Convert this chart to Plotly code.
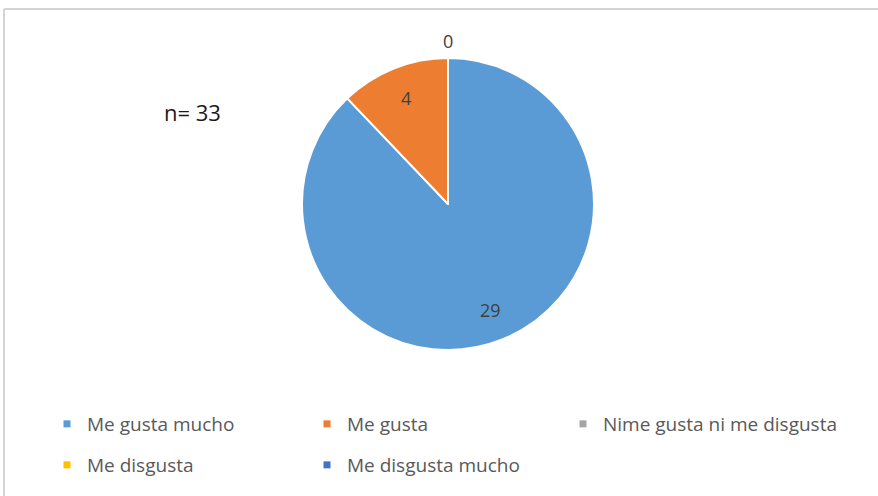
import math
import plotly.graph_objects as go

# Survey answers (n = 33)
categories = ["Me gusta mucho", "Me gusta", "Nime gusta ni me disgusta",
              "Me disgusta", "Me disgusta mucho"]
counts = [29, 4, 0, 0, 0]
colors = ["#5B9BD5", "#ED7D31", "#A5A5A5", "#FFC000", "#4472C4"]
sample_label = "n= " + str(sum(counts))

W, H = 878, 496
cx, cy, R = 448, 204, 146  # pie centre / radius in pixels (from top-left)
FONT = "Open Sans"

# Legend grid: three columns, two rows (pixel positions)
col_x = [47, 307, 563]
row_y = [424, 465]

fig = go.Figure()

fig.add_trace(go.Pie(
    labels=categories,
    values=counts,
    marker=dict(colors=colors, line=dict(color="white", width=2)),
    sort=False,
    direction="clockwise",
    rotation=0,
    textinfo="none",
    showlegend=False,
    hoverinfo="label+value",
    domain=dict(x=[(cx - R) / W, (cx + R) / W],
                y=[(H - cy - R) / H, (H - cy + R) / H]),
))

legend_layouts = {}
for i, (name, col) in enumerate(zip(categories, colors)):
    key = "legend" if i == 0 else f"legend{i + 1}"
    fig.add_trace(go.Scatter(
        x=[None], y=[None], mode="markers", name=name,
        marker=dict(symbol="square", size=7, color=col),
        legend=key,
    ))
    legend_layouts[key] = dict(
        x=col_x[i % 3] / W, y=1 - row_y[i // 3] / H,
        xanchor="left", yanchor="middle", orientation="h",
        font=dict(family=FONT, size=19, color="#595959"),
        bgcolor="rgba(0,0,0,0)", itemclick=False, itemdoubleclick=False,
    )


def polar_to_paper(angle_deg, radius):
    rad = math.radians(angle_deg)
    px = cx + radius * math.sin(rad)
    py = cy - radius * math.cos(rad)
    return px / W, 1 - py / H


label_font = dict(family=FONT, size=18, color="#404040")
annotations = []
total = sum(counts)
cum = 0
zero_angles = set()
for v in counts:
    start = 360 * cum / total
    if v == 0:
        zero_angles.add(round(start, 6) % 360)
    else:
        mid = start + 180 * v / total
        x, y = polar_to_paper(mid, 0.78 * R)
        annotations.append(dict(x=x, y=y, xref="paper", yref="paper",
                                xanchor="center", yanchor="middle",
                                text=str(v), showarrow=False, font=label_font))
    cum += v

# Empty categories: value just outside the rim at their angle
for ang in sorted(zero_angles):
    x, y = polar_to_paper(ang, R + 17)
    annotations.append(dict(x=x, y=y, xref="paper", yref="paper",
                            xanchor="center", yanchor="middle",
                            text="0", showarrow=False, font=label_font))

annotations.append(dict(
    x=192 / W, y=1 - 112 / H, xref="paper", yref="paper",
    xanchor="center", yanchor="middle",
    text=sample_label, showarrow=False,
    font=dict(family=FONT, size=22, color="#1a1a1a"),
))

fig.update_layout(
    width=W, height=H,
    margin=dict(l=0, r=0, t=0, b=0),
    paper_bgcolor="white", plot_bgcolor="white",
    xaxis=dict(visible=False), yaxis=dict(visible=False),
    annotations=annotations,
    shapes=[
        dict(type="line", xref="paper", yref="paper",
             x0=4 / W, x1=1, y0=1 - 9 / H, y1=1 - 9 / H,
             line=dict(color="#d4d4d4", width=2)),
        dict(type="line", xref="paper", yref="paper",
             x0=4 / W, x1=4 / W, y0=0, y1=1 - 9 / H,
             line=dict(color="#d4d4d4", width=2)),
    ],
    **legend_layouts,
)

fig.write_html("out.html")
